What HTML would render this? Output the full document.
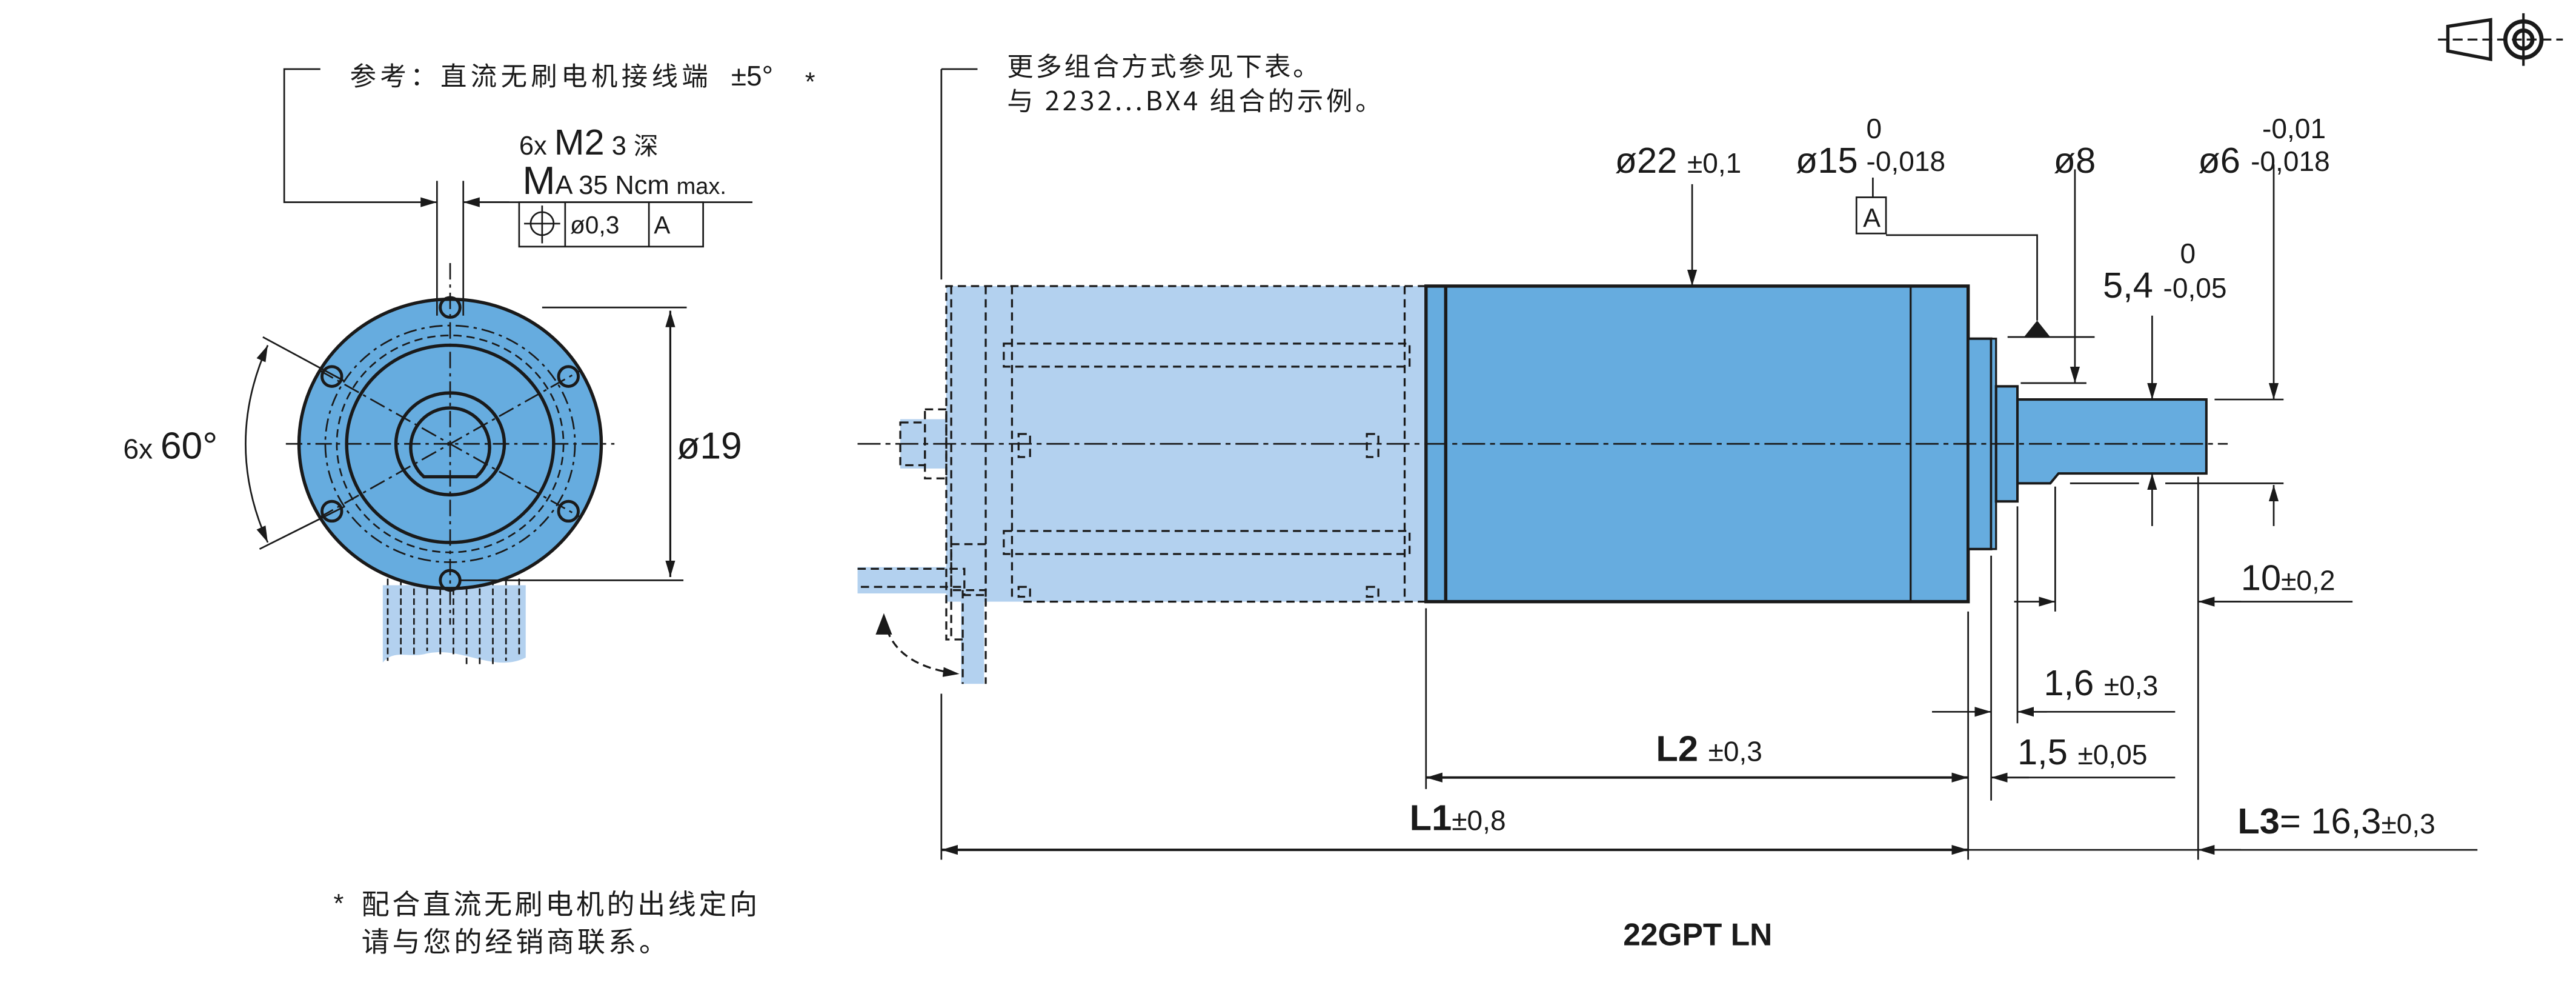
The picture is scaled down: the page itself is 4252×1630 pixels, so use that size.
<!DOCTYPE html>
<html><head><meta charset="utf-8"><style>
html,body{margin:0;padding:0;background:#fff;width:4252px;height:1630px;overflow:hidden}
svg{display:block}
text{font-family:"Liberation Sans","Noto Sans CJK SC",sans-serif;fill:#1a1a1a}
.cn{font-family:"Noto Sans CJK SC","Liberation Sans",sans-serif}
</style></head><body>
<svg width="4252" height="1630" viewBox="0 0 1568 601" xmlns="http://www.w3.org/2000/svg">
<defs>
<marker id="a" viewBox="0 0 10 6" refX="10" refY="3" markerWidth="10" markerHeight="6" markerUnits="userSpaceOnUse" orient="auto"><path d="M0,0L10,3L0,6z" fill="#1a1a1a"/></marker>
<marker id="b" viewBox="0 0 10 6" refX="0" refY="3" markerWidth="10" markerHeight="6" markerUnits="userSpaceOnUse" orient="auto"><path d="M10,0L0,3L10,6z" fill="#1a1a1a"/></marker>
</defs>
<g stroke="#1a1a1a" fill="none">
<path d="M1490,16 L1516,12 L1516,36 L1490,31 Z" stroke-width="2"/>
<line x1="1484" y1="24" x2="1560" y2="24" stroke-width="1.2" stroke-dasharray="6,3"/>
<circle cx="1536" cy="24" r="11" stroke-width="2.5"/><circle cx="1536" cy="24" r="5.5" stroke-width="2.5"/>
<line x1="1536" y1="8" x2="1536" y2="40" stroke-width="1.5"/>

<path d="M233,356 L320,356 L320,400 C300,410 280,392 258,398 C248,400 240,395 233,403 Z" fill="#b3d1ef" stroke="none"/>
<g stroke-width="1" stroke-dasharray="4,2">
<line x1="236" y1="352" x2="236" y2="402"/><line x1="244" y1="352" x2="244" y2="400"/><line x1="252" y1="352" x2="252" y2="398"/><line x1="260" y1="352" x2="260" y2="396"/><line x1="268" y1="352" x2="268" y2="398"/><line x1="276" y1="352" x2="276" y2="400"/><line x1="284" y1="352" x2="284" y2="404"/><line x1="292" y1="352" x2="292" y2="406"/><line x1="300" y1="352" x2="300" y2="404"/><line x1="308" y1="352" x2="308" y2="402"/><line x1="316" y1="352" x2="316" y2="400"/>
</g>
<ellipse cx="274" cy="270" rx="92" ry="88" fill="#66acdf" stroke-width="2"/>
<ellipse cx="274" cy="270" rx="63" ry="60" stroke-width="2"/>
<ellipse cx="274" cy="270" rx="76" ry="72" stroke-width="1" stroke-dasharray="8,3,2,3"/>
<ellipse cx="274" cy="270" rx="69" ry="66" stroke-width="1" stroke-dasharray="5,3"/>
<ellipse cx="274" cy="270" rx="33" ry="31" stroke-width="2"/>
<path d="M258,290 A24,24 0 1 1 290,290 Z" stroke-width="2"/>
<g stroke-width="1.8">
<circle cx="274" cy="187" r="6"/><circle cx="274" cy="353" r="6"/>
<circle cx="202" cy="229" r="6"/><circle cx="346" cy="229" r="6"/>
<circle cx="202" cy="311" r="6"/><circle cx="346" cy="311" r="6"/>
</g>
<g stroke-width="1" stroke-dasharray="10,3,2,3">
<line x1="174" y1="270" x2="374" y2="270"/>
<line x1="274" y1="160" x2="274" y2="380"/>
<line x1="194" y1="225" x2="354" y2="315"/>
<line x1="194" y1="315" x2="354" y2="225"/>
</g>
<line x1="160" y1="205" x2="210" y2="232" stroke-width="1"/>
<line x1="158" y1="334" x2="210" y2="308" stroke-width="1"/>
<path d="M163,210 Q136,270 163,330" stroke-width="1" marker-start="url(#b)" marker-end="url(#a)"/>
<line x1="330" y1="187" x2="418" y2="187" stroke-width="1"/>
<line x1="280" y1="353" x2="416" y2="353" stroke-width="1"/>
<line x1="408" y1="189" x2="408" y2="351" stroke-width="1.2" marker-start="url(#b)" marker-end="url(#a)"/>
<line x1="266" y1="110" x2="266" y2="192" stroke-width="1"/>
<line x1="282" y1="110" x2="282" y2="192" stroke-width="1"/>
<polyline points="195,42 173,42 173,123 266,123" stroke-width="1" marker-end="url(#a)"/>
<line x1="310" y1="123" x2="282" y2="123" stroke-width="1" marker-end="url(#a)"/>
<line x1="282" y1="123" x2="458" y2="123" stroke-width="1"/>
<rect x="316" y="123" width="112" height="27" stroke-width="1"/>
<line x1="344" y1="123" x2="344" y2="150" stroke-width="1"/><line x1="395" y1="123" x2="395" y2="150" stroke-width="1"/>
<circle cx="330" cy="136" r="7" stroke-width="1"/><line x1="319" y1="136" x2="341" y2="136" stroke-width="1"/><line x1="330" y1="125" x2="330" y2="148" stroke-width="1"/>

<rect x="576" y="174" width="292" height="192" fill="#b3d1ef" stroke="none"/>
<rect x="548" y="255" width="30" height="30" fill="#b3d1ef" stroke="none"/>
<rect x="522" y="345" width="92" height="16" fill="#b3d1ef" stroke="none"/>
<rect x="585" y="360" width="14" height="56" fill="#b3d1ef" stroke="none"/>
<g stroke-width="1.2" stroke-dasharray="5,3">
<polyline points="868,174 576,174 576,389 586,389"/>
<polyline points="868,366 620,366"/>
<line x1="579" y1="174" x2="579" y2="389"/>
<line x1="600" y1="174" x2="600" y2="368"/>
<line x1="616" y1="174" x2="616" y2="366"/>
<line x1="855" y1="174" x2="855" y2="366"/>
<rect x="611" y="209" width="247" height="14"/>
<rect x="611" y="323" width="247" height="14"/>
<rect x="620" y="264" width="7" height="14"/><rect x="832" y="264" width="7" height="14"/>
<rect x="620" y="357" width="7" height="6"/><rect x="832" y="357" width="7" height="6"/>
<rect x="563" y="249" width="13" height="42"/>
<rect x="548" y="257" width="15" height="26"/>
<rect x="579" y="331" width="21" height="28"/>
<polyline points="522,346 587,346 587,362 600,362 600,416"/>
<polyline points="524,357 586,357 586,416"/>
</g>
<path d="M538,375 Q542,405 584,410" stroke-width="1.2" stroke-dasharray="5,3" marker-end="url(#a)"/>
<path d="M538,373 L533,386 L543,386 Z" fill="#1a1a1a" stroke="none"/>
<line x1="573" y1="42" x2="573" y2="170" stroke-width="1"/>
<polyline points="573,42 595,42" stroke-width="1"/>
<line x1="573" y1="422" x2="573" y2="523" stroke-width="1"/>

<rect x="868" y="174" width="330" height="192" fill="#66acdf" stroke-width="2"/>
<line x1="880" y1="174" x2="880" y2="366" stroke-width="2"/>
<line x1="1163" y1="174" x2="1163" y2="366" stroke-width="1.2"/>
<rect x="1198" y="206" width="14" height="128" fill="#66acdf" stroke-width="1.5"/>
<rect x="1212" y="206" width="3" height="128" fill="#66acdf" stroke-width="1.2"/>
<rect x="1215" y="235" width="13" height="70" fill="#66acdf" stroke-width="1.5"/>
<path d="M1228,243 L1343,243 L1343,288 L1253,288 L1248,294 L1228,294 Z" fill="#66acdf" stroke-width="1.5"/>
<line x1="522" y1="270" x2="1356" y2="270" stroke-width="1" stroke-dasharray="14,3,3,3"/>

<rect x="1130" y="120" width="18" height="22" stroke-width="1"/>
<line x1="1140" y1="108" x2="1140" y2="120" stroke-width="1"/>
<polyline points="1148,143 1240,143 1240,195" stroke-width="1"/>
<path d="M1232,205 L1240,195 L1248,205 Z" fill="#1a1a1a" stroke="none"/>
<line x1="1222" y1="205" x2="1275" y2="205" stroke-width="1"/>
<line x1="1030" y1="112" x2="1030" y2="174" stroke-width="1" marker-end="url(#a)"/>
<line x1="1263" y1="103" x2="1263" y2="233" stroke-width="1" marker-end="url(#a)"/>
<line x1="1230" y1="233" x2="1270" y2="233" stroke-width="1"/>
<line x1="1310" y1="192" x2="1310" y2="243" stroke-width="1" marker-end="url(#a)"/>
<line x1="1310" y1="320" x2="1310" y2="288" stroke-width="1" marker-end="url(#a)"/>
<line x1="1384" y1="100" x2="1384" y2="243" stroke-width="1" marker-end="url(#a)"/>
<line x1="1384" y1="320" x2="1384" y2="295" stroke-width="1" marker-end="url(#a)"/>
<line x1="1348" y1="243" x2="1390" y2="243" stroke-width="1"/>
<line x1="1260" y1="294" x2="1302" y2="294" stroke-width="1"/>
<line x1="1318" y1="294" x2="1390" y2="294" stroke-width="1"/>
<line x1="1198" y1="372" x2="1198" y2="523" stroke-width="1"/>
<line x1="1212" y1="338" x2="1212" y2="487" stroke-width="1"/>
<line x1="1228" y1="308" x2="1228" y2="440" stroke-width="1"/>
<line x1="1251" y1="296" x2="1251" y2="372" stroke-width="1"/>
<line x1="1338" y1="290" x2="1338" y2="523" stroke-width="1"/>
<line x1="868" y1="370" x2="868" y2="480" stroke-width="1"/>
<line x1="1226" y1="366" x2="1251" y2="366" stroke-width="1" marker-end="url(#a)"/>
<line x1="1364" y1="366" x2="1338" y2="366" stroke-width="1" marker-end="url(#a)"/>
<line x1="1338" y1="366" x2="1432" y2="366" stroke-width="1"/>
<line x1="1176" y1="433" x2="1212" y2="433" stroke-width="1" marker-end="url(#a)"/>
<line x1="1246" y1="433" x2="1228" y2="433" stroke-width="1" marker-end="url(#a)"/>
<line x1="1228" y1="433" x2="1324" y2="433" stroke-width="1"/>
<line x1="868" y1="473" x2="1198" y2="473" stroke-width="1.5" marker-start="url(#b)" marker-end="url(#a)"/>
<line x1="1235" y1="473" x2="1212" y2="473" stroke-width="1" marker-end="url(#a)"/>
<line x1="1212" y1="473" x2="1324" y2="473" stroke-width="1"/>
<line x1="573" y1="517" x2="1198" y2="517" stroke-width="1.5" marker-start="url(#b)" marker-end="url(#a)"/>
<line x1="1198" y1="517" x2="1338" y2="517" stroke-width="1"/>
<line x1="1364" y1="517" x2="1338" y2="517" stroke-width="1" marker-end="url(#a)"/>
<line x1="1338" y1="517" x2="1508" y2="517" stroke-width="1"/>
</g>

<text x="213" y="52" font-size="16" class="cn" textLength="218" lengthAdjust="spacing">参考：直流无刷电机接线端</text>
<text x="445" y="52" font-size="17">±5°</text>
<text x="490" y="55" font-size="16">*</text>
<text x="316" y="94" font-size="16">6x <tspan font-size="22">M2</tspan> 3 <tspan class="cn" font-size="15">深</tspan></text>
<text x="318" y="118" font-size="16"><tspan font-size="24">M</tspan>A 35 Ncm <tspan font-size="14">max.</tspan></text>
<text x="347" y="142" font-size="15">ø0,3</text>
<text x="398" y="142" font-size="15">A</text>
<text x="75" y="279" font-size="17">6x <tspan font-size="23">60°</tspan></text>
<text x="412" y="279" font-size="23">ø19</text>
<text x="613" y="46" font-size="16" class="cn" textLength="190" lengthAdjust="spacing">更多组合方式参见下表。</text>
<text x="613" y="67" font-size="16" class="cn" textLength="228" lengthAdjust="spacing">与 2232...BX4 组合的示例。</text>
<text x="983" y="105" font-size="22">ø22 <tspan font-size="17">±0,1</tspan></text>
<text x="1093" y="105" font-size="22">ø15</text>
<text x="1136" y="84" font-size="17">0</text>
<text x="1136" y="104" font-size="17">-0,018</text>
<text x="1134" y="138" font-size="16">A</text>
<text x="1250" y="105" font-size="22">ø8</text>
<text x="1338" y="105" font-size="22">ø6</text>
<text x="1377" y="84" font-size="17">-0,01</text>
<text x="1370" y="104" font-size="17">-0,018</text>
<text x="1327" y="160" font-size="17">0</text>
<text x="1280" y="181" font-size="22">5,4 <tspan font-size="17">-0,05</tspan></text>
<text x="1364" y="359" font-size="22">10<tspan font-size="17">±0,2</tspan></text>
<text x="1244" y="423" font-size="22">1,6 <tspan font-size="17">±0,3</tspan></text>
<text x="1228" y="465" font-size="22">1,5 <tspan font-size="17">±0,05</tspan></text>
<text x="1008" y="463" font-size="22" font-weight="bold">L2 <tspan font-size="17" font-weight="normal">±0,3</tspan></text>
<text x="858" y="505" font-size="22" font-weight="bold">L1<tspan font-size="17" font-weight="normal">±0,8</tspan></text>
<text x="1362" y="507" font-size="22" font-weight="bold">L3<tspan font-weight="normal">= 16,3<tspan font-size="17">±0,3</tspan></tspan></text>
<text x="988" y="575" font-size="19" font-weight="bold">22GPT LN</text>
<text x="203" y="555" font-size="16">*</text>
<text x="220" y="556" font-size="17" class="cn" textLength="241" lengthAdjust="spacing">配合直流无刷电机的出线定向</text>
<text x="220" y="579" font-size="17" class="cn" textLength="186" lengthAdjust="spacing">请与您的经销商联系。</text>
</svg>
</body></html>
